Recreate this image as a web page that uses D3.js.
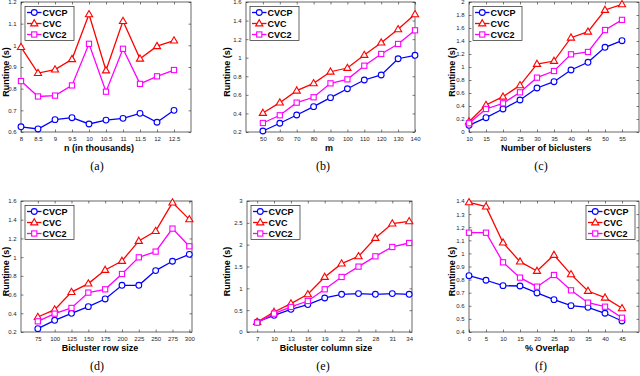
<!DOCTYPE html>
<html><head><meta charset="utf-8">
<script src="https://cdn.jsdelivr.net/npm/d3@7/dist/d3.min.js"></script>
<style>
html,body{margin:0;padding:0;background:#fff;}
svg{display:block;font-family:"Liberation Sans",Arial,sans-serif;}
</style></head><body>
<svg id="c" width="640" height="376"></svg>
<script>
// ---------- data ----------
const seriesNames = ["CVCP", "CVC", "CVC2"];

const xA = [8, 8.5, 9, 9.5, 10, 10.5, 11, 11.5, 12, 12.5];
const cvcpA = [0.624, 0.614, 0.657, 0.666, 0.637, 0.655, 0.663, 0.686, 0.645, 0.700];
const cvcA  = [0.992, 0.872, 0.888, 0.936, 1.143, 0.884, 1.112, 0.938, 0.996, 1.022];
const cvc2A = [0.835, 0.764, 0.768, 0.815, 1.007, 0.786, 0.984, 0.822, 0.857, 0.886];

const xB = [50, 60, 70, 80, 90, 100, 110, 120, 130, 140];
const cvcpB = [0.211, 0.294, 0.383, 0.473, 0.570, 0.666, 0.760, 0.814, 0.989, 1.026];
const cvcB  = [0.405, 0.516, 0.645, 0.724, 0.849, 0.889, 1.029, 1.162, 1.306, 1.467];
const cvc2B = [0.297, 0.380, 0.516, 0.574, 0.724, 0.767, 0.914, 1.040, 1.148, 1.295];

const xC = [10, 15, 20, 25, 30, 35, 40, 45, 50, 55];
const cvcpC = [0.103, 0.220, 0.354, 0.492, 0.677, 0.774, 0.954, 1.072, 1.303, 1.405];
const cvcC  = [0.159, 0.415, 0.543, 0.718, 1.046, 1.092, 1.451, 1.543, 1.877, 1.964];
const cvc2C = [0.134, 0.354, 0.441, 0.610, 0.836, 0.938, 1.195, 1.231, 1.569, 1.725];

const xD = [75, 100, 125, 150, 175, 200, 225, 250, 275, 300];
const cvcpD = [0.236, 0.325, 0.400, 0.471, 0.553, 0.699, 0.699, 0.856, 0.956, 1.030];
const cvcD  = [0.360, 0.439, 0.627, 0.717, 0.863, 0.959, 1.173, 1.279, 1.583, 1.404];
const cvc2D = [0.314, 0.396, 0.457, 0.621, 0.656, 0.820, 0.998, 1.059, 1.305, 1.116];

const xE = [7, 10, 13, 16, 19, 22, 25, 28, 31, 34];
const cvcpE = [0.229, 0.382, 0.520, 0.627, 0.779, 0.863, 0.879, 0.863, 0.879, 0.863];
const cvcE  = [0.229, 0.458, 0.650, 0.863, 1.260, 1.566, 1.733, 2.153, 2.482, 2.535];
const cvc2E = [0.215, 0.421, 0.573, 0.710, 0.978, 1.260, 1.497, 1.733, 1.947, 2.038];

const xF = [0, 5, 10, 15, 20, 25, 30, 35, 40, 45];
const cvcpF = [0.830, 0.795, 0.754, 0.751, 0.698, 0.647, 0.601, 0.588, 0.543, 0.484];
const cvcF  = [1.390, 1.357, 1.082, 0.937, 0.866, 0.988, 0.840, 0.713, 0.662, 0.581];
const cvc2F = [1.158, 1.158, 0.932, 0.815, 0.746, 0.835, 0.718, 0.624, 0.593, 0.509];

const yTicksA = [0.6, 0.7, 0.8, 0.9, 1, 1.1, 1.2];
const yTicksB = [0.2, 0.4, 0.6, 0.8, 1, 1.2, 1.4, 1.6];
const yTicksC = [0, 0.2, 0.4, 0.6, 0.8, 1, 1.2, 1.4, 1.6, 1.8, 2];
const yTicksD = [0.2, 0.4, 0.6, 0.8, 1, 1.2, 1.4, 1.6];
const yTicksE = [0, 0.5, 1, 1.5, 2, 2.5, 3];
const yTicksF = [0.4, 0.5, 0.6, 0.7, 0.8, 0.9, 1, 1.1, 1.2, 1.3, 1.4];

const xLabels = ["n (in thousands)", "m", "Number of biclusters", "Bicluster row size", "Bicluster column size", "% Overlap"];
const captions = ["(a)", "(b)", "(c)", "(d)", "(e)", "(f)"];
const yLabel = "Runtime (s)";

// ---------- layout ----------
const panels = [
  {x: xA, s: [cvcpA, cvcA, cvc2A], yt: yTicksA, xd: [8, 13],    yd: [0.6, 1.2], box: [21, 2, 191, 132],   leg: "left",  lx: 99,  cx: 97,  yl: 8.5},
  {x: xB, s: [cvcpB, cvcB, cvc2B], yt: yTicksB, xd: [40, 140],  yd: [0.2, 1.6], box: [246, 2, 415, 132],  leg: "left",  lx: 329, cx: 323, yl: 230},
  {x: xC, s: [cvcpC, cvcC, cvc2C], yt: yTicksC, xd: [10, 60],   yd: [0, 2],     box: [469, 2, 639, 132],  leg: "left",  lx: 546, cx: 541, yl: 455},
  {x: xD, s: [cvcpD, cvcD, cvc2D], yt: yTicksD, xd: [50, 304],  yd: [0.2, 1.6], box: [21, 201, 192, 332], leg: "left",  lx: 100, cx: 97,  yl: 8.5},
  {x: xE, s: [cvcpE, cvcE, cvc2E], yt: yTicksE, xd: [5.2, 34.5],yd: [0, 3],     box: [247, 201, 412, 332],leg: "left",  lx: 326, cx: 323, yl: 230},
  {x: xF, s: [cvcpF, cvcF, cvc2F], yt: yTicksF, xd: [0, 50],    yd: [0.4, 1.4], box: [469, 201, 639, 332],leg: "right", lx: 547, cx: 541, yl: 455}
];
const colors = ["#0000ff", "#ff0000", "#ff00ff"];
const axisCol = "#262626";

const svg = d3.select("#c");

function marker(g, type, color) {
  if (type === 0) {
    g.append("circle").attr("r", 2.9).attr("fill", "#fff").attr("stroke", color).attr("stroke-width", 1.1);
  } else if (type === 1) {
    g.append("path").attr("d", "M0,-3.8L3.6,2.4L-3.6,2.4Z").attr("fill", "#fff").attr("stroke", color).attr("stroke-width", 1.1);
  } else {
    g.append("rect").attr("x", -2.6).attr("y", -2.6).attr("width", 5.2).attr("height", 5.2)
      .attr("fill", "#fff").attr("stroke", color).attr("stroke-width", 1.1);
  }
}

panels.forEach((p, i) => {
  const [x0, y0, x1, y1] = p.box;
  const xs = d3.scaleLinear().domain(p.xd).range([x0, x1]);
  const ys = d3.scaleLinear().domain(p.yd).range([y1, y0]);
  const g = svg.append("g");

  // axes (ticks inward, mirrored)
  const fmt = d => d3.format("~g")(d);
  const axB = g.append("g").attr("transform", `translate(0,${y1})`)
    .call(d3.axisBottom(xs).tickValues(p.x).tickSize(-2.5).tickPadding(5).tickFormat(fmt));
  const axT = g.append("g").attr("transform", `translate(0,${y0})`)
    .call(d3.axisTop(xs).tickValues(p.x).tickSize(-2.5).tickFormat(""));
  const axL = g.append("g").attr("transform", `translate(${x0},0)`)
    .call(d3.axisLeft(ys).tickValues(p.yt).tickSize(-2.5).tickPadding(4.5).tickFormat(fmt));
  const axR = g.append("g").attr("transform", `translate(${x1},0)`)
    .call(d3.axisRight(ys).tickValues(p.yt).tickSize(-2.5).tickFormat(""));
  [axB, axT, axL, axR].forEach(a => {
    a.select(".domain").remove();
    a.selectAll("line").attr("stroke", axisCol).attr("stroke-width", 0.6);
    a.selectAll("text").attr("font-size", 6).attr("fill", axisCol).attr("font-family", "Liberation Sans, Arial, sans-serif");
  });
  g.append("rect").attr("x", x0).attr("y", y0).attr("width", x1 - x0).attr("height", y1 - y0)
    .attr("fill", "none").attr("stroke", axisCol).attr("stroke-width", 0.7);

  // series
  p.s.forEach((vals, k) => {
    const pts = p.x.map((xv, j) => [xs(xv), ys(vals[j])]);
    g.append("path").attr("d", d3.line()(pts)).attr("fill", "none")
      .attr("stroke", colors[k]).attr("stroke-width", 1.3).attr("stroke-linejoin", "miter");
    pts.forEach(pt => {
      marker(g.append("g").attr("transform", `translate(${pt[0]},${pt[1]})`), k, colors[k]);
    });
  });

  // legend
  const lw = 49, lh = 34;
  const lxp = p.leg === "left" ? x0 + 4 : x1 - 4 - lw;
  const lyp = y0 + 4.5;
  const lg = g.append("g").attr("transform", `translate(${lxp},${lyp})`);
  lg.append("rect").attr("width", lw).attr("height", lh).attr("fill", "#fff")
    .attr("stroke", axisCol).attr("stroke-width", 0.7);
  seriesNames.forEach((nm, k) => {
    const yy = 6 + k * 11;
    lg.append("line").attr("x1", 2).attr("x2", 16.5).attr("y1", yy).attr("y2", yy)
      .attr("stroke", colors[k]).attr("stroke-width", 1.3);
    marker(lg.append("g").attr("transform", `translate(9.25,${yy})`), k, colors[k]);
    lg.append("text").attr("x", 17.5).attr("y", yy + 3.2).text(nm)
      .attr("font-size", 9).attr("font-weight", "bold").attr("fill", "#000");
  });

  // labels
  g.append("text").attr("x", p.lx).attr("y", y1 + 19).attr("text-anchor", "middle")
    .attr("font-size", 9).attr("font-weight", "bold").attr("fill", "#000").text(xLabels[i]);
  const ylc = (y0 + y1) / 2 + 5;
  g.append("text").attr("transform", `translate(${p.yl},${ylc}) rotate(-90)`)
    .attr("text-anchor", "middle").attr("font-size", 9).attr("font-weight", "bold")
    .attr("fill", "#000").text(yLabel);
  g.append("text").attr("x", p.cx).attr("y", y1 + 37.5).attr("text-anchor", "middle")
    .attr("font-family", "Liberation Serif, DejaVu Serif, serif").attr("font-size", 12)
    .attr("fill", "#000").text(captions[i]);
});
</script>
</body></html>
